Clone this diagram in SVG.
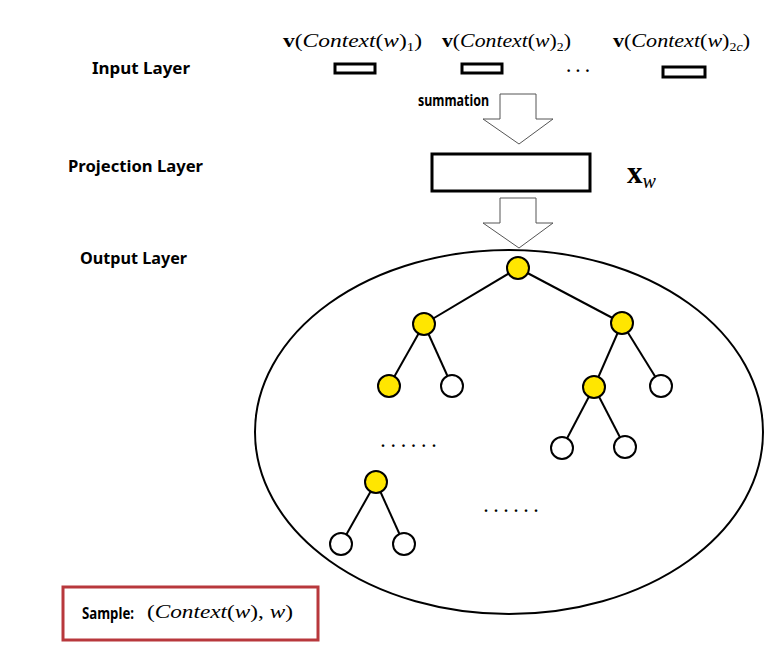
<svg xmlns="http://www.w3.org/2000/svg" width="782" height="665" viewBox="0 0 782 665">
<style>
.lbl{font-family:"Noto Sans","Liberation Sans",sans-serif;font-weight:bold;font-size:16px;fill:#000}
.math{font-family:"Liberation Serif","DejaVu Serif",serif;font-size:19px;fill:#000}
.it{font-style:italic}
.bf{font-weight:bold}
.sub{font-size:12px}
.box{fill:#fff;stroke:#000;stroke-width:3}
.arrow{fill:#fff;stroke:#555;stroke-width:1}
.node{stroke:#000;stroke-width:2}
.y{fill:#ffe600}
.w{fill:#fff}
.edge{stroke:#000;stroke-width:2;fill:none}
.dots{font-family:"Liberation Serif",serif;font-size:16px;font-weight:bold;fill:#000}
</style>
<rect width="782" height="665" fill="#fff"/>

<g id="layer-labels">
<text class="lbl" x="92" y="74" textLength="98" lengthAdjust="spacingAndGlyphs">Input  Layer</text>
<text class="lbl" x="68" y="172" textLength="135" lengthAdjust="spacingAndGlyphs">Projection  Layer</text>
<text class="lbl" x="80" y="264" textLength="107" lengthAdjust="spacingAndGlyphs">Output Layer</text>
</g>

<g id="input-labels">
<text class="math" x="283" y="47" textLength="139" lengthAdjust="spacingAndGlyphs"><tspan class="bf">v</tspan>(<tspan class="it">Context</tspan>(<tspan class="it">w</tspan>)<tspan class="sub" dy="4">1</tspan><tspan dy="-4">)</tspan></text>
<text class="math" x="442" y="47" textLength="129" lengthAdjust="spacingAndGlyphs"><tspan class="bf">v</tspan>(<tspan class="it">Context</tspan>(<tspan class="it">w</tspan>)<tspan class="sub" dy="4">2</tspan><tspan dy="-4">)</tspan></text>
<text class="math" x="613" y="47" textLength="137" lengthAdjust="spacingAndGlyphs"><tspan class="bf">v</tspan>(<tspan class="it">Context</tspan>(<tspan class="it">w</tspan>)<tspan class="sub" dy="4">2<tspan class="it">c</tspan></tspan><tspan dy="-4">)</tspan></text>
</g>

<g id="input-1"><rect class="box" x="335" y="64" width="40" height="9"/></g>
<g id="input-2"><rect class="box" x="462" y="64" width="40" height="9"/></g>
<g id="input-dots"><text class="dots" x="566" y="76" font-size="14" textLength="24" lengthAdjust="spacing">···</text></g>
<g id="input-2c"><rect class="box" x="663" y="67" width="42" height="10"/></g>

<g id="summation-arrow">
<polygon class="arrow" points="500,94 536,94 536,119 553,119 519,144 483,119 500,119"/>
<text class="lbl" x="418" y="106" font-size="12" textLength="71" lengthAdjust="spacingAndGlyphs">summation</text>
</g>

<g id="projection">
<rect class="box" x="432" y="154" width="158" height="37"/>
<text x="627" y="183" font-family="Liberation Serif,serif" font-size="31" font-weight="bold">x<tspan font-size="20" font-weight="normal" font-style="italic" dy="5">w</tspan></text>
</g>

<g id="projection-arrow">
<polygon class="arrow" points="500,198 536,198 536,223 553,223 519,248 483,223 500,223"/>
</g>

<g id="output-ellipse">
<ellipse cx="509" cy="432" rx="254" ry="182" fill="none" stroke="#000" stroke-width="2"/>
</g>

<g id="connectors">
<line class="edge" x1="518" y1="268" x2="424" y2="324"/>
<line class="edge" x1="518" y1="268" x2="622" y2="323"/>
<line class="edge" x1="424" y1="324" x2="389" y2="386"/>
<line class="edge" x1="424" y1="324" x2="452" y2="386"/>
<line class="edge" x1="622" y1="323" x2="594" y2="387"/>
<line class="edge" x1="622" y1="323" x2="661" y2="386"/>
<line class="edge" x1="594" y1="387" x2="562" y2="448"/>
<line class="edge" x1="594" y1="387" x2="625" y2="447"/>
<line class="edge" x1="376" y1="482" x2="341" y2="544"/>
<line class="edge" x1="376" y1="482" x2="404" y2="544"/>
</g>

<g id="n-root"><circle class="node y" cx="518" cy="268" r="11"/></g>
<g id="n-l"><circle class="node y" cx="424" cy="324" r="11"/></g>
<g id="n-r"><circle class="node y" cx="622" cy="323" r="11"/></g>
<g id="n-ll"><circle class="node y" cx="389" cy="386" r="11"/></g>
<g id="n-lr"><circle class="node w" cx="452" cy="386" r="11"/></g>
<g id="n-rl"><circle class="node y" cx="594" cy="387" r="11"/></g>
<g id="n-rr"><circle class="node w" cx="661" cy="386" r="11"/></g>
<g id="n-rll"><circle class="node w" cx="562" cy="448" r="11"/></g>
<g id="n-rlr"><circle class="node w" cx="625" cy="447" r="11"/></g>
<g id="n-x"><circle class="node y" cx="376" cy="482" r="11"/></g>
<g id="n-xl"><circle class="node w" cx="341" cy="544" r="11"/></g>
<g id="n-xr"><circle class="node w" cx="404" cy="544" r="11"/></g>

<g id="ellipsis-1"><text class="dots" x="381" y="447" font-size="15" textLength="55" lengthAdjust="spacing">......</text></g>
<g id="ellipsis-2"><text class="dots" x="484" y="512" font-size="13" font-weight="normal" textLength="54" lengthAdjust="spacing">......</text></g>

<g id="sample">
<rect x="63" y="587" width="255" height="53" fill="#fff" stroke="#b8383c" stroke-width="3"/>
<text class="lbl" x="82" y="619" font-size="17" textLength="52" lengthAdjust="spacingAndGlyphs">Sample:</text>
<text class="math" x="147" y="618" textLength="146" lengthAdjust="spacingAndGlyphs">(<tspan class="it">Context</tspan>(<tspan class="it">w</tspan>), <tspan class="it">w</tspan>)</text>
</g>
</svg>
